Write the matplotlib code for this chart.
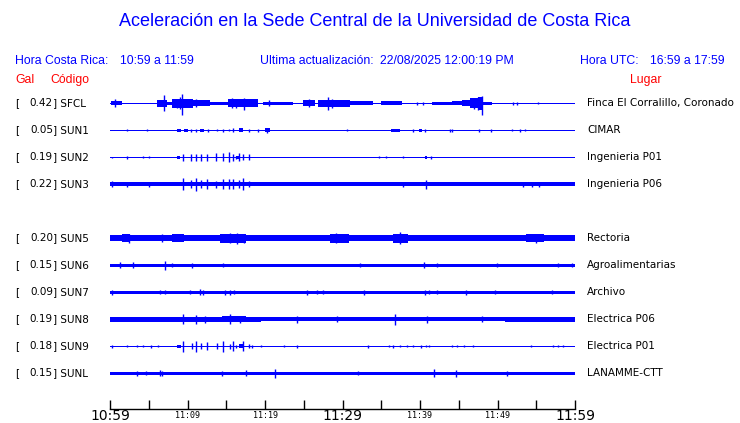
import matplotlib
matplotlib.use("Agg")
import matplotlib.pyplot as plt

# station data
codes = ["SFCL", "SUN1", "SUN2", "SUN3", "SUN5", "SUN6", "SUN7", "SUN8", "SUN9", "SUNL"]
gal = [0.42, 0.05, 0.19, 0.22, 0.20, 0.15, 0.09, 0.19, 0.18, 0.15]
places = ["Finca El Corralillo, Coronado", "CIMAR", "Ingenieria P01", "Ingenieria P06",
          "Rectoria", "Agroalimentarias", "Archivo", "Electrica P06", "Electrica P01", "LANAMME-CTT"]
slots = [0, 1, 2, 3, 5, 6, 7, 8, 9, 10]

# trace envelopes (minutes after 10:59, half amplitude in px)
base = [0.6, 0.6, 0.6, 2.0, 3.0, 1.3, 1.5, 1.8, 0.6, 1.5]
bursts = [
    [(0.1, 1.6, 2), (6.1, 7.3, 3.5), (7.3, 8.0, 1.5), (8.0, 10.7, 4.5), (10.7, 12.9, 3),
     (12.9, 15.2, 1.3), (15.2, 19.1, 4), (19.8, 23.6, 1.5), (24.9, 26.5, 3), (26.9, 31.0, 3.5),
     (31.0, 33.9, 1.8), (35.0, 37.7, 2), (41.5, 44.1, 1.5), (44.1, 45.4, 2), (45.4, 46.5, 3),
     (46.5, 47.5, 5), (47.5, 48.1, 6.5), (48.1, 49.3, 1.5)],
    [(8.6, 9.1, 1.5), (9.5, 10.0, 1.5), (11.6, 12.1, 1.5), (16.7, 17.2, 2), (20.0, 20.7, 2),
     (36.3, 37.4, 1.5), (39.9, 40.3, 1.5)],
    [(8.6, 9.0, 1.5), (16.3, 16.6, 1.5), (40.7, 40.9, 1.5)],
    [],
    [(1.5, 2.6, 4), (7.96, 9.5, 4), (14.2, 17.5, 4.5), (28.4, 30.9, 4.5), (36.5, 38.5, 4.5),
     (53.7, 56.0, 4)],
    [],
    [],
    [(0, 19.5, 2.3), (24, 51, 2.2), (51, 60, 2.6), (14.5, 17.5, 2.8)],
    [(8.6, 9.2, 1.5), (16.6, 17.3, 2)],
    [],
]
spikes = [
    [(0.65, 4, 4), (7.0, 8.3, 7.7), (9.33, 9.3, 11.7), (9.0, 6, 6), (8.6, 4.5, 5), (11.05, 4, 4),
     (15.8, 5, 5), (17.33, 5.5, 7), (16.3, 4.5, 4.5), (20.55, 3, 3), (25.72, 4, 4),
     (28.17, 6.5, 6.5), (28.6, 4.5, 4.5), (39.57, 1.5, 1.5), (40.43, 1.5, 1.5), (47.96, 7.3, 12),
     (47.5, 6.5, 7), (47.0, 5.5, 6), (51.96, 1.3, 1.3), (52.48, 1.5, 1.5), (55.19, 1, 1)],
    [(2.15, 1, 1), (4.82, 1, 1), (10.5, 1.3, 1.3), (11.05, 1.3, 1.3), (12.6, 1.3, 1.3),
     (13.76, 1, 1), (14.62, 1.3, 2), (15.4, 1, 1), (15.83, 2, 2), (17.98, 1.3, 1.3),
     (19.14, 1.3, 1.3), (20.3, 1, 2.7), (30.63, 1, 1), (39.14, 1.3, 1.3), (40.69, 1.3, 1.3),
     (43.87, 1.3, 1.3), (44.17, 1.5, 1.5), (47.57, 1.3, 1.3), (49.12, 1.3, 1.3), (51.92, 1, 1),
     (52.91, 1.3, 1.3), (53.59, 1, 1)],
    [(0.2, 0.5, 1), (2.15, 1.3, 1.3), (4.22, 0.8, 0.8), (5.08, 1, 1), (9.46, 3.7, 3.7),
     (10.5, 3.7, 3.7), (11.05, 3.7, 3.7), (11.78, 3.7, 3.7), (12.56, 3.5, 3.5), (13.72, 4, 4),
     (14.62, 4, 4), (15.4, 5, 5), (15.83, 3.5, 3.5), (16.26, 1.5, 1.5), (16.69, 4, 4),
     (17.12, 3, 3), (17.93, 3, 3), (34.76, 1, 1), (35.62, 1, 1), (37.85, 1, 1), (41.38, 1.5, 1.5)],
    [(0.2, 3, 3), (2.15, 2.5, 2.5), (5.08, 2.5, 2.5), (9.46, 6, 6), (10.5, 4, 4),
     (11.05, 6.5, 6.5), (11.78, 4, 4), (12.56, 5, 5), (13.72, 3.5, 3.5), (14.62, 5, 5),
     (15.4, 5, 5), (15.83, 5, 5), (16.69, 4, 4), (17.12, 6, 6), (17.93, 3, 3), (37.85, 2.5, 2.5),
     (40.78, 4.5, 4.5), (53.25, 2.5, 2.5), (54.41, 2.5, 2.5), (55.36, 2.5, 2.5)],
    [(2.4, 4.3, 4.3), (6.67, 4, 4), (16.34, 5, 5.7), (15.5, 5, 5), (17.33, 4.5, 4.5),
     (37.42, 6, 6), (29.1, 5, 5), (55.0, 4.5, 4.5)],
    [(1.29, 3, 3), (3.01, 3, 3), (7.1, 4, 4.3), (7.96, 2, 2), (10.6, 2.5, 2.5), (14.62, 1.8, 1.8),
     (32.26, 2, 2), (40.52, 3, 3), (42.15, 2, 2), (49.9, 1.8, 1.8), (57.85, 2, 2), (59.57, 2, 2)],
    [(0.2, 2.5, 2.5), (6.45, 2, 2), (7.1, 2, 2), (10.3, 2, 2), (11.6, 3, 3), (12.0, 2.5, 2.5),
     (14.8, 2.5, 2.5), (15.5, 2.5, 2.5), (16.0, 2, 2), (25.38, 2.5, 2.5), (26.67, 2, 2),
     (27.53, 2, 2), (32.78, 2.5, 2.5), (40.65, 2.5, 2.5), (41.2, 2, 2), (42.15, 2, 2),
     (45.94, 2.5, 2.5), (49.68, 2, 2), (56.99, 2, 2)],
    [(9.46, 5, 5), (11.05, 4.5, 4.5), (12.2, 3.5, 3.5), (15.5, 5, 5), (16.8, 3.5, 3.5),
     (24.09, 3.5, 3.5), (29.25, 2.8, 2.8), (36.78, 5, 5.5), (40.86, 3.5, 3.5), (48.0, 3, 3)],
    [(0.2, 1.5, 1.5), (2.15, 1, 1), (3.44, 1, 1), (4.22, 0.8, 0.8), (5.25, 1.3, 1.3),
     (6.24, 0.8, 0.8), (9.46, 5.5, 5.5), (10.54, 3, 3), (11.05, 5.3, 5.3), (11.78, 3, 3),
     (12.56, 4, 4), (13.76, 3, 3), (14.62, 5.3, 5.3), (15.48, 2.5, 2.5), (15.83, 5, 5),
     (16.26, 1.5, 1.5), (17.12, 5, 5), (17.93, 2, 2), (18.37, 1.3, 1.3), (19.44, 1, 1),
     (22.5, 1, 1), (24.09, 1.5, 1.5), (33.34, 1.3, 1.3), (36.05, 1, 1), (36.5, 1.5, 1.5),
     (37.42, 1, 1), (38.28, 1, 1), (39.14, 1, 1), (40.09, 1.3, 1.3), (40.78, 1, 1),
     (41.21, 1, 1), (44.09, 1, 1), (44.82, 1, 1), (45.68, 1, 1), (46.88, 0.8, 0.8),
     (54.28, 1, 1), (57.12, 1, 1), (57.85, 1, 1), (58.41, 1, 1)],
    [(3.44, 2.5, 2.5), (4.6, 2, 2), (6.45, 3, 3), (6.67, 2.5, 2.5), (14.41, 2.5, 2.5),
     (17.5, 3, 3), (21.29, 4, 4.3), (32.05, 2, 2), (41.85, 4, 3.5), (44.65, 3.5, 3.5),
     (51.19, 2.5, 2.5)],
]

tick_min = [0, 5, 10, 15, 20, 25, 30, 35, 40, 45, 50, 55, 60]
tick_lbl = {0: "10:59", 10: "11:09", 20: "11:19", 30: "11:29", 40: "11:39", 50: "11:49", 60: "11:59"}

W, H = 740, 423
X0, PPM = 110, 7.75       # px of 10:59, px per minute
Y0, DY = 103.3, 27        # first trace baseline, row spacing
BLUE = "#0000ff"

fig = plt.figure(figsize=(W / 100, H / 100), dpi=100)
ax = fig.add_axes([0, 0, 1, 1])
ax.set_xlim(-X0 / PPM, (W - X0) / PPM)
ax.set_ylim(H, 0)
ax.axis("off")


def fx(x):
    return x / W


def fy(y):
    return 1 - y / H


# traces
for i, slot in enumerate(slots):
    y = Y0 + DY * slot
    ax.fill_between([0, 60], y - base[i], y + base[i], color=BLUE, lw=0)
    for t0, t1, a in bursts[i]:
        ax.fill_between([t0, t1], y - a, y + a, color=BLUE, lw=0)
    for t, up, dn in spikes[i]:
        ax.vlines(t, y - up, y + dn, color=BLUE, lw=1.0)

    lf = dict(fontsize=7.5, va="center", family="DejaVu Sans")
    fig.text(fx(15), fy(y), "[", **lf)
    fig.text(fx(53), fy(y), f"{gal[i]:.2f}", ha="right", **lf)
    fig.text(fx(53), fy(y), f"] {codes[i]}", **lf)
    fig.text(fx(587), fy(y), places[i], **lf)

# time axis
ax.plot([0, 60], [409, 409], color="black", lw=1)
ax.vlines(tick_min, 400, 409, color="black", lw=1)
for m, s in tick_lbl.items():
    if m % 30 == 0:
        ax.text(m, 416, s, fontsize=10, ha="center", va="center", family="DejaVu Sans")
    else:
        ax.text(m, 415.5, s, fontsize=6, ha="center", va="center", family="DejaVu Sans Mono")

# header
hf = dict(family="Liberation Sans", color=BLUE, va="center")
fig.text(fx(375), fy(22), "Aceleración en la Sede Central de la Universidad de Costa Rica",
         fontsize=13, ha="center", **hf)
fig.text(fx(15), fy(61), "Hora Costa Rica:", fontsize=8.8, **hf)
fig.text(fx(120), fy(61), "10:59 a 11:59", fontsize=8.8, **hf)
fig.text(fx(260), fy(61), "Ultima actualización:", fontsize=8.8, **hf)
fig.text(fx(380), fy(61), "22/08/2025 12:00:19 PM", fontsize=8.8, **hf)
fig.text(fx(580), fy(61), "Hora UTC:", fontsize=8.8, **hf)
fig.text(fx(650), fy(61), "16:59 a 17:59", fontsize=8.8, **hf)

rf = dict(family="Liberation Sans", color="red", va="center", fontsize=8.8)
fig.text(fx(15), fy(80), "Gal", **rf)
fig.text(fx(50), fy(80), "Código", **rf)
fig.text(fx(630), fy(80), "Lugar", **rf)

fig.savefig("out.png", dpi=100)
